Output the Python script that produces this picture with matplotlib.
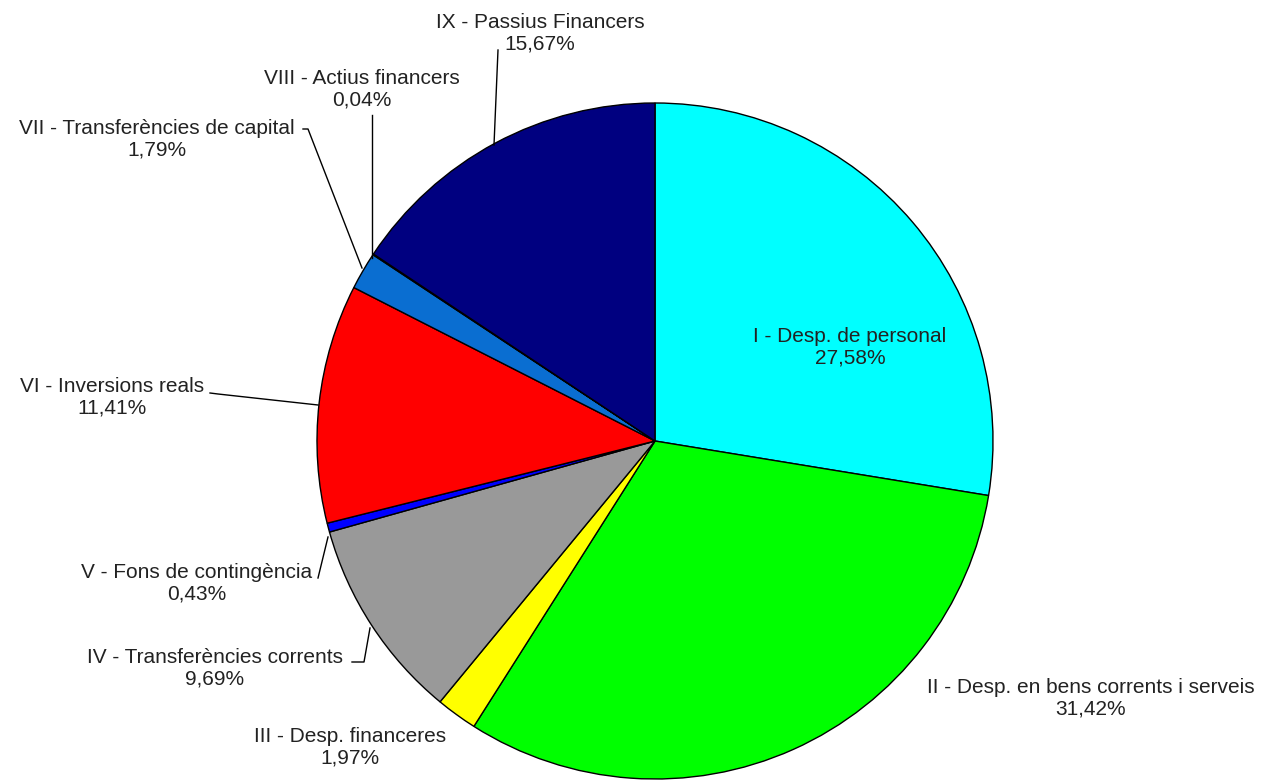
import matplotlib.pyplot as plt

# Pressupost de despeses per capítols (%)
labels = ['I - Desp. de personal', 'II - Desp. en bens corrents i serveis',
          'III - Desp. financeres', 'IV - Transferències corrents',
          'V - Fons de contingència', 'VI - Inversions reals',
          'VII - Transferències de capital', 'VIII - Actius financers',
          'IX - Passius Financers']
values = [27.58, 31.42, 1.97, 9.69, 0.43, 11.41, 1.79, 0.04, 15.67]
colors = ['#00FFFF', '#00FF00', '#FFFF00', '#999999', '#0000FF',
          '#FF0000', '#0A6ED1', '#9999FF', '#000080']

# label block centres in pixels
label_pos = [(850, 347), (1091, 698), (350, 747), (215, 668), (197, 583),
             (112, 397), (157, 139), (362, 89), (540, 33)]
# leader lines in pixels
leaders = [None, None, None,
           [(352, 662), (364, 662), (370, 628)],
           [(318, 578), (328, 537)],
           [(210, 393), (218, 394), (318, 405)],
           [(303, 129), (308, 129), (362, 268)],
           [(372, 115), (372, 258)],
           [(498, 50), (494, 145)]]

W, H = 1278, 781
fig = plt.figure(figsize=(W / 100, H / 100), dpi=100)
ax = fig.add_axes([0, 0, 1, 1])

ax.pie(values, colors=colors, startangle=90, counterclock=False,
       center=(655, H - 441), radius=338,
       wedgeprops=dict(edgecolor='black', linewidth=1.0))
ax.set_xlim(0, W)
ax.set_ylim(0, H)
ax.set_aspect('equal')
ax.axis('off')

for lab, v, (x, y) in zip(labels, values, label_pos):
    txt = lab + '\n' + f'{v:.2f}'.replace('.', ',') + '%'
    ax.text(x, H - y, txt, ha='center', va='center', fontsize=15,
            family='Liberation Sans', color='#222222', linespacing=1.15)

for seg in leaders:
    if seg is None:
        continue
    xs = [p[0] for p in seg]
    ys = [H - p[1] for p in seg]
    ax.plot(xs, ys, color='black', linewidth=1)

fig.savefig('out.png', dpi=100)
